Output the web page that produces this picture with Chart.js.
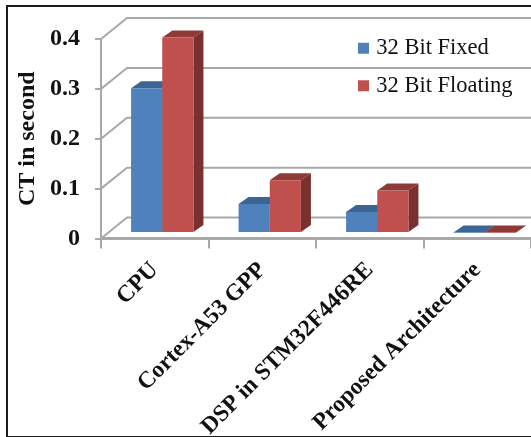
<!DOCTYPE html>
<html>
<head>
<meta charset="utf-8">
<title>CT in second</title>
<script src="https://cdn.jsdelivr.net/npm/chart.js@4"></script>
<style>
    html, body { margin: 0; padding: 0; background: #fff; overflow: hidden; }
    canvas { position: absolute; left: 0; top: 0; filter: blur(0.4px); }
    #marco { position: absolute; left: 6px; top: 5px; width: 600px; height: 429px; border: 2px solid #1c1c1c; pointer-events: none; }
</style>
</head>
<body>
<canvas id="grafico" width="531" height="437"></canvas>
<div id="marco"></div>
<script>
// Datos
const categorias = ["CPU", "Cortex-A53 GPP", "DSP in STM32F446RE", "Proposed Architecture"];
const fijo32 = [0.29, 0.058, 0.042, 0.001];
const flotante32 = [0.392, 0.106, 0.085, 0.001];

const colorRejilla = "#a8a8a8";
const fondoX = 26, fondoY = -21;   // profundidad de la pared
const barraX = 7.5, barraY = -5.5; // las barras van en mitad del suelo
const cajaX = 10, cajaY = -7;      // profundidad de cada barra

const fuente = "'Liberation Serif', serif";

// Pared del fondo y caras laterales de las barras
const efecto3d = {
    id: "efecto3d",
    beforeDraw(chart) {
        // leyenda colocada a mano sobre la pared
        chart.legend.left = 347;
        chart.legend.top = 22;
    },
    beforeDatasetsDraw(chart) {
        const ctx = chart.ctx;
        const area = chart.chartArea;
        const ejeY = chart.scales.y;

        ctx.save();
        ctx.strokeStyle = colorRejilla;
        ctx.lineWidth = 2;
        ejeY.ticks.forEach(t => {
            const y = ejeY.getPixelForValue(t.value);
            ctx.beginPath();
            ctx.moveTo(area.left, y);
            ctx.lineTo(area.left + fondoX, y + fondoY);
            ctx.lineTo(area.right + fondoX, y + fondoY);
            ctx.stroke();
        });
        ctx.restore();

        ctx.save();
        ctx.translate(barraX, barraY);
        chart.data.datasets.forEach((ds, i) => {
            chart.getDatasetMeta(i).data.forEach(barra => {
                const izq = barra.x - barra.width / 2;
                const der = barra.x + barra.width / 2;
                ctx.fillStyle = ds.colorArriba;
                ctx.beginPath();
                ctx.moveTo(izq, barra.y);
                ctx.lineTo(izq + cajaX, barra.y + cajaY);
                ctx.lineTo(der + cajaX, barra.y + cajaY);
                ctx.lineTo(der, barra.y);
                ctx.fill();
                ctx.fillStyle = ds.colorLado;
                ctx.beginPath();
                ctx.moveTo(der, barra.y);
                ctx.lineTo(der + cajaX, barra.y + cajaY);
                ctx.lineTo(der + cajaX, barra.base + cajaY);
                ctx.lineTo(der, barra.base);
                ctx.fill();
            });
        });
        // se restaura en afterDatasetsDraw, las barras tambien van desplazadas
    },
    afterDatasetsDraw(chart) {
        chart.ctx.restore();
    }
};

new Chart(document.getElementById("grafico"), {
    type: "bar",
    plugins: [efecto3d],
    data: {
        labels: categorias,
        datasets: [
            { label: "32 Bit Fixed", data: fijo32, backgroundColor: "#4f81bd", colorArriba: "#3a6595", colorLado: "#385d8a" },
            { label: "32 Bit Floating", data: flotante32, backgroundColor: "#c0504d", colorArriba: "#8f3a37", colorLado: "#7a302e" }
        ]
    },
    options: {
        responsive: false,
        animation: false,
        layout: { autoPadding: false, padding: { top: 39, left: 0, right: 0, bottom: 0 } },
        categoryPercentage: 0.58,
        barPercentage: 1,
        plugins: {
            tooltip: { enabled: false },
            legend: {
                position: "chartArea",
                align: "start",
                labels: {
                    color: "#111",
                    font: { family: fuente, size: 22.5 },
                    boxWidth: 3,
                    boxHeight: 3,
                    padding: 15,
                    generateLabels(chart) {
                        return chart.data.datasets.map((ds, i) => ({
                            text: ds.label,
                            datasetIndex: i,
                            fillStyle: ds.backgroundColor,
                            strokeStyle: ds.backgroundColor,
                            lineWidth: 8,
                            fontColor: "#111"
                        }));
                    }
                }
            }
        },
        scales: {
            x: {
                afterFit(eje) { eje.height = 198.5; },
                grid: { drawOnChartArea: false, color: colorRejilla, lineWidth: 2, tickLength: 10 },
                border: { color: colorRejilla, width: 3 },
                ticks: {
                    color: "#111",
                    minRotation: 45,
                    maxRotation: 45,
                    autoSkip: false,
                    padding: 8,
                    font: { family: fuente, size: 23.5, weight: "bold" }
                }
            },
            y: {
                min: 0,
                max: 0.4,
                afterFit(eje) { eje.width = 101; },
                grid: { drawOnChartArea: false, color: colorRejilla, lineWidth: 2, tickLength: 6 },
                border: { color: colorRejilla, width: 2 },
                ticks: {
                    stepSize: 0.1,
                    color: "#111",
                    padding: 15,
                    font: { family: fuente, size: 24, weight: "bold" }
                },
                title: {
                    display: true,
                    text: "CT in second",
                    color: "#111",
                    padding: { top: 13, bottom: 0 },
                    font: { family: fuente, size: 24, weight: "bold" }
                }
            }
        }
    }
});
</script>
</body>
</html>
